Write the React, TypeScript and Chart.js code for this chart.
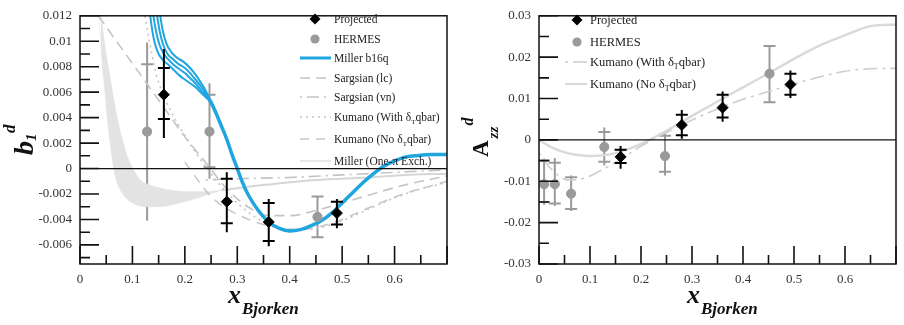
import React, { useEffect, useRef } from 'react';
import { Chart, registerables } from 'chart.js';
Chart.register(...registerables);

const SERIF = '"Liberation Serif", "Times New Roman", serif';

// ================= LEFT PANEL: b1^d =================
const L_X_TICKS = [0, 0.1, 0.2, 0.3, 0.4, 0.5, 0.6, 0.7];
const L_X_TICK_LABELS = ['0', '0.1', '0.2', '0.3', '0.4', '0.5', '0.6', ''];
const L_X_MINOR = [0.05, 0.15, 0.25, 0.35, 0.45, 0.55, 0.65];
const L_Y_TICKS = [-0.006, -0.004, -0.002, 0, 0.002, 0.004, 0.006, 0.008, 0.01, 0.012];
const L_Y_TICK_LABELS = ['-0.006', '-0.004', '-0.002', '0', '0.002', '0.004', '0.006', '0.008', '0.01', '0.012'];
const L_Y_MINOR = [-0.007, -0.005, -0.003, -0.001, 0.001, 0.003, 0.005, 0.007, 0.009, 0.011];

const L_PROJ_X = [0.16, 0.28, 0.36, 0.49];
const L_PROJ_Y = [0.0058, -0.0026, -0.0042, -0.0035];
const L_PROJ_CAP_LO = [0.0039, -0.0043, -0.0057, -0.0044];
const L_PROJ_CAP_HI = [0.0079, -0.0008, -0.0027, -0.0026];
const L_PROJ_LO = [0.0024, -0.005, -0.0061, -0.0047];
const L_PROJ_HI = [0.0094, -0.0003, -0.0024, -0.0024];

const L_HERMES_X = [0.128, 0.247, 0.453];
const L_HERMES_Y = [0.0029, 0.0029, -0.0038];
const L_HERMES_CAP_LO = [-0.0023, 0.0001, -0.0054];
const L_HERMES_CAP_HI = [0.0082, 0.0058, -0.0022];
const L_HERMES_LO = [-0.0041, -0.0008, -0.0054];
const L_HERMES_HI = [0.0099, 0.0067, -0.0022];

// Miller b16q: four strands at small x, one thick curve afterwards
const MILLER_S1_X = [0.134, 0.138, 0.143, 0.15, 0.159, 0.17, 0.18, 0.19, 0.2, 0.21, 0.22, 0.23, 0.24, 0.25];
const MILLER_S1_Y = [0.012, 0.0108, 0.0098, 0.009, 0.0085, 0.0081, 0.0077, 0.0073, 0.007, 0.0067, 0.0064, 0.006, 0.0056, 0.0052];
const MILLER_S2_X = [0.14, 0.145, 0.151, 0.16, 0.17, 0.18, 0.19, 0.2, 0.21, 0.22, 0.23, 0.24, 0.25];
const MILLER_S2_Y = [0.012, 0.0108, 0.0098, 0.009, 0.0085, 0.0081, 0.0078, 0.0075, 0.0071, 0.0067, 0.0062, 0.0057, 0.0052];
const MILLER_S3_X = [0.147, 0.152, 0.158, 0.167, 0.177, 0.188, 0.2, 0.21, 0.22, 0.23, 0.24, 0.25];
const MILLER_S3_Y = [0.012, 0.0108, 0.0098, 0.009, 0.0086, 0.0082, 0.0079, 0.0075, 0.007, 0.0065, 0.0059, 0.0052];
const MILLER_S4_X = [0.153, 0.158, 0.165, 0.175, 0.185, 0.197, 0.21, 0.22, 0.23, 0.24, 0.25];
const MILLER_S4_Y = [0.012, 0.0108, 0.0098, 0.0091, 0.0087, 0.0084, 0.0079, 0.0074, 0.0068, 0.0061, 0.0052];
const MILLER_X = [0.24, 0.25, 0.26, 0.27, 0.28, 0.29, 0.3, 0.31, 0.32, 0.34, 0.36, 0.38, 0.4, 0.42, 0.44, 0.46, 0.48, 0.5, 0.52, 0.54, 0.56, 0.58, 0.6, 0.62, 0.64, 0.67, 0.7];
const MILLER_Y = [0.0059, 0.0052, 0.0043, 0.0033, 0.0023, 0.0011, 0.0, -0.0011, -0.002, -0.0033, -0.0042, -0.0047, -0.0049, -0.0048, -0.0045, -0.0041, -0.0035, -0.0027, -0.0019, -0.0011, -0.0004, 0.0002, 0.0006, 0.0009, 0.001, 0.0011, 0.0011];

const SARG_LC_X = [0.035, 0.08, 0.12, 0.16, 0.2, 0.245, 0.28, 0.32, 0.36, 0.4, 0.45, 0.5, 0.55, 0.6, 0.65, 0.7];
const SARG_LC_Y = [0.012, 0.0094, 0.0071, 0.0048, 0.0025, 0.0002, -0.0016, -0.003, -0.0037, -0.0037, -0.0033, -0.0027, -0.0021, -0.0015, -0.001, -0.0006];
const SARG_VN_X = [0.24, 0.3, 0.4, 0.5, 0.6, 0.7];
const SARG_VN_Y = [-0.0009, -0.0008, -0.0007, -0.0005, -0.0003, -0.0001];
const KUM_WITH_X = [0.124, 0.13, 0.138, 0.146, 0.155, 0.165, 0.18, 0.2, 0.22, 0.25, 0.28, 0.32, 0.36, 0.4, 0.45, 0.5, 0.55, 0.6, 0.65, 0.7];
const KUM_WITH_Y = [0.012, 0.0105, 0.0088, 0.0073, 0.0062, 0.0052, 0.004, 0.0026, 0.0013, -0.0004, -0.0019, -0.0034, -0.0044, -0.0048, -0.0047, -0.0041, -0.0032, -0.0023, -0.0016, -0.0011];
const KUM_NO_X = [0.2, 0.25, 0.3, 0.36, 0.42, 0.48, 0.55, 0.61, 0.7];
const KUM_NO_Y = [0.0005, -0.0022, -0.0036, -0.0045, -0.0048, -0.0043, -0.0031, -0.0021, -0.001];
const OPE_X = [0.27, 0.35, 0.45, 0.55, 0.62, 0.7];
const OPE_Y = [-0.0017, -0.0013, -0.0009, -0.0007, -0.0005, -0.0004];
const BAND_OUT_X = [0.036, 0.042, 0.047, 0.052, 0.057, 0.063, 0.07, 0.08, 0.09, 0.1, 0.11, 0.127, 0.15, 0.18, 0.21, 0.24, 0.27];
const BAND_OUT_Y = [0.012, 0.0085, 0.0062, 0.004, 0.0021, 0.0003, -0.001, -0.0019, -0.0024, -0.0027, -0.0029, -0.003, -0.003, -0.0028, -0.0025, -0.0021, -0.0017];
const BAND_IN_X = [0.04, 0.048, 0.057, 0.065, 0.073, 0.082, 0.09, 0.101, 0.115, 0.134, 0.16, 0.2, 0.24, 0.27];
const BAND_IN_Y = [0.012, 0.0095, 0.0073, 0.0053, 0.0036, 0.0021, 0.001, 0.0, -0.0009, -0.0013, -0.0016, -0.0018, -0.0018, -0.0017];

const L_LEGEND = ['Projected', 'HERMES', 'Miller b16q', 'Sargsian (lc)', 'Sargsian (vn)', 'Kumano (With δ_Tqbar)', 'Kumano (No δ_Tqbar)', 'Miller (One-π Exch.)'];

// ================= RIGHT PANEL: Azz^d =================
const R_X_TICKS = [0, 0.1, 0.2, 0.3, 0.4, 0.5, 0.6, 0.7];
const R_X_TICK_LABELS = ['0', '0.1', '0.2', '0.3', '0.4', '0.5', '0.6', ''];
const R_X_MINOR = [0.05, 0.15, 0.25, 0.35, 0.45, 0.55, 0.65];
const R_Y_TICKS = [-0.03, -0.02, -0.01, 0, 0.01, 0.02, 0.03];
const R_Y_TICK_LABELS = ['-0.03', '-0.02', '-0.01', '0', '0.01', '0.02', '0.03'];
const R_Y_MINOR = [-0.025, -0.015, -0.005, 0.005, 0.015, 0.025];

const R_PROJ_X = [0.16, 0.28, 0.36, 0.493];
const R_PROJ_Y = [-0.0041, 0.0036, 0.0078, 0.0134];
const R_PROJ_CAP_LO = [-0.0056, 0.0011, 0.0054, 0.0109];
const R_PROJ_CAP_HI = [-0.0024, 0.0061, 0.0109, 0.016];
const R_PROJ_LO = [-0.007, 0.0003, 0.0044, 0.0101];
const R_PROJ_HI = [-0.0015, 0.0072, 0.0117, 0.0168];

const R_HERMES_X = [0.01, 0.031, 0.063, 0.128, 0.247, 0.452];
const R_HERMES_Y = [-0.0107, -0.0107, -0.013, -0.0017, -0.0039, 0.016];
const R_HERMES_CAP_LO = [-0.015, -0.0154, -0.0167, -0.0053, -0.0077, 0.0091];
const R_HERMES_CAP_HI = [-0.005, -0.0055, -0.009, 0.0019, 0.001, 0.0227];
const R_HERMES_LO = [-0.0157, -0.016, -0.0172, -0.0062, -0.0086, 0.0091];
const R_HERMES_HI = [-0.0045, -0.0044, -0.0086, 0.003, 0.0015, 0.0227];

const RK_WITH_X = [0, 0.02, 0.04, 0.06, 0.08, 0.1, 0.13, 0.16, 0.2, 0.25, 0.3, 0.35, 0.4, 0.45, 0.5, 0.55, 0.6, 0.65, 0.7];
const RK_WITH_Y = [-0.0031, -0.0065, -0.0088, -0.0097, -0.0095, -0.0087, -0.0068, -0.0047, -0.0015, 0.0018, 0.0048, 0.0075, 0.0098, 0.0117, 0.0135, 0.0152, 0.0166, 0.0172, 0.0173];
const RK_NO_X = [0, 0.02, 0.04, 0.06, 0.08, 0.1, 0.12, 0.15, 0.18, 0.21, 0.25, 0.3, 0.35, 0.4, 0.45, 0.5, 0.55, 0.6, 0.65, 0.7];
const RK_NO_Y = [0, -0.0015, -0.0026, -0.0033, -0.0037, -0.0039, -0.0038, -0.0032, -0.002, -0.0004, 0.0022, 0.0058, 0.0093, 0.0127, 0.0161, 0.0196, 0.0228, 0.0253, 0.0275, 0.0279];

const R_LEGEND = ['Projected', 'HERMES', 'Kumano (With δ_Tqbar)', 'Kumano (No δ_Tqbar)'];

// ================= helpers =================
const pts = (xs: number[], ys: number[]) => xs.map((x, i) => ({ x, y: ys[i] }));

const BLUE = '#1fa6e1';
const GRAY_PT = '#9a9a9a';

type Curve = { xs: number[]; ys: number[]; color: string; width: number; dash?: number[]; fill?: string; bg?: string };
type ErrGroup = { xs: number[]; capLo: number[]; capHi: number[]; lo: number[]; hi: number[]; color: string; layer: 'before' | 'after' };
type LegendItem = { kind: 'diamond' | 'circle' | 'line'; color: string; width?: number; dash?: number[] };

function curveDataset(c: Curve) {
  return {
    data: pts(c.xs, c.ys),
    showLine: true,
    pointRadius: 0,
    borderColor: c.color,
    borderWidth: c.width,
    borderDash: c.dash || [],
    cubicInterpolationMode: 'monotone',
    fill: c.fill ? c.fill : false,
    backgroundColor: c.bg || 'transparent',
  };
}

function drawRich(ctx: CanvasRenderingContext2D, text: string, x: number, y: number, size: number) {
  // "_X" renders X as subscript
  let cx = x;
  let i = 0;
  while (i < text.length) {
    if (text[i] === '_' && i + 1 < text.length) {
      ctx.font = `${Math.round(size * 0.62)}px ${SERIF}`;
      ctx.fillText(text[i + 1], cx, y + size * 0.25);
      cx += ctx.measureText(text[i + 1]).width;
      i += 2;
      continue;
    }
    let j = i;
    while (j < text.length && text[j] !== '_') j++;
    const s = text.slice(i, j);
    ctx.font = `${size}px ${SERIF}`;
    ctx.fillText(s, cx, y);
    cx += ctx.measureText(s).width;
    i = j;
  }
}

type Panel = {
  width: number;
  yAxisWidth: number;
  padRight: number;
  yMin: number;
  yMax: number;
  xTicks: number[]; xTickLabels: string[]; xMinor: number[];
  yTicks: number[]; yTickLabels: string[]; yMinor: number[];
  proj: { xs: number[]; ys: number[] };
  hermes: { xs: number[]; ys: number[] };
  curves: Curve[];
  errs: ErrGroup[];
  legend: { cx: number; lx0: number; lx1: number; tx: number; rows: number[]; size: number; labels: string[]; items: LegendItem[] };
  yTitle: (ctx: CanvasRenderingContext2D) => void;
  xTitleX: number;
};

function buildConfig(p: Panel) {
  const datasets: any[] = [
    {
      data: pts(p.proj.xs, p.proj.ys),
      pointStyle: 'rectRot', pointRadius: 5.5, backgroundColor: '#000', borderColor: '#000', borderWidth: 1, showLine: false,
    },
    {
      data: pts(p.hermes.xs, p.hermes.ys),
      pointStyle: 'circle', pointRadius: 4.6, backgroundColor: GRAY_PT, borderColor: GRAY_PT, borderWidth: 1, showLine: false,
    },
    ...p.curves.map(curveDataset),
  ];

  const errPlugin = {
    id: 'errbars',
    _draw(chart: any, layer: string) {
      const { ctx, chartArea: a, scales } = chart;
      const x = scales.x, y = scales.y;
      ctx.save();
      ctx.beginPath();
      ctx.rect(a.left, a.top, a.right - a.left, a.bottom - a.top);
      ctx.clip();
      for (const g of p.errs) {
        if (g.layer !== layer) continue;
        ctx.strokeStyle = g.color;
        ctx.lineWidth = 2;
        g.xs.forEach((xv, i) => {
          const px = x.getPixelForValue(xv);
          ctx.beginPath();
          ctx.moveTo(px, y.getPixelForValue(g.lo[i]));
          ctx.lineTo(px, y.getPixelForValue(g.hi[i]));
          for (const cv of [g.capLo[i], g.capHi[i]]) {
            const py = y.getPixelForValue(cv);
            ctx.moveTo(px - 6, py);
            ctx.lineTo(px + 6, py);
          }
          ctx.stroke();
        });
      }
      ctx.restore();
    },
    beforeDatasetsDraw(chart: any) { (this as any)._draw(chart, 'before'); },
    afterDatasetsDraw(chart: any) { (this as any)._draw(chart, 'after'); },
  };

  const framePlugin = {
    id: 'frame',
    afterDatasetsDraw(chart: any) {
      const { ctx, chartArea: a, scales } = chart;
      const x = scales.x, y = scales.y;
      ctx.save();
      ctx.strokeStyle = '#111';
      ctx.lineWidth = 1.2;
      const y0 = y.getPixelForValue(0);
      ctx.beginPath();
      ctx.moveTo(a.left, y0);
      ctx.lineTo(a.right, y0);
      ctx.stroke();
      ctx.lineWidth = 1.5;
      ctx.strokeRect(a.left, a.top, a.right - a.left, a.bottom - a.top);
      ctx.lineWidth = 1.6;
      ctx.beginPath();
      const xt = (vals: number[], len: number) => vals.forEach((v) => {
        const px = x.getPixelForValue(v);
        ctx.moveTo(px, a.bottom);
        ctx.lineTo(px, a.bottom - len);
      });
      const yt = (vals: number[], len: number) => vals.forEach((v) => {
        const py = y.getPixelForValue(v);
        ctx.moveTo(a.left, py);
        ctx.lineTo(a.left + len, py);
      });
      xt(p.xTicks, 18); xt(p.xMinor, 9);
      yt(p.yTicks, 19); yt(p.yMinor, 10);
      ctx.stroke();
      ctx.restore();
    },
  };

  const textPlugin = {
    id: 'texts',
    afterDraw(chart: any) {
      const { ctx } = chart;
      const lg = p.legend;
      ctx.save();
      lg.items.forEach((it, i) => {
        const cy = lg.rows[i];
        ctx.save();
        if (it.kind === 'diamond') {
          ctx.fillStyle = it.color;
          ctx.beginPath();
          ctx.moveTo(lg.cx, cy - 5.5); ctx.lineTo(lg.cx + 5.5, cy); ctx.lineTo(lg.cx, cy + 5.5); ctx.lineTo(lg.cx - 5.5, cy);
          ctx.closePath(); ctx.fill();
        } else if (it.kind === 'circle') {
          ctx.fillStyle = it.color;
          ctx.beginPath(); ctx.arc(lg.cx, cy, 4.6, 0, Math.PI * 2); ctx.fill();
        } else {
          ctx.strokeStyle = it.color;
          ctx.lineWidth = it.width || 1.5;
          ctx.setLineDash(it.dash || []);
          ctx.beginPath(); ctx.moveTo(lg.lx0, cy); ctx.lineTo(lg.lx1, cy); ctx.stroke();
        }
        ctx.restore();
        ctx.fillStyle = '#222';
        ctx.textBaseline = 'alphabetic';
        drawRich(ctx, lg.labels[i], lg.tx, cy + lg.size * 0.33, lg.size);
      });
      ctx.fillStyle = '#111';
      p.yTitle(ctx);
      ctx.font = `italic bold 26px ${SERIF}`;
      ctx.fillText('x', p.xTitleX, 303);
      const w = ctx.measureText('x').width;
      ctx.font = `italic bold 17px ${SERIF}`;
      ctx.fillText('Bjorken', p.xTitleX + w + 1, 314);
      ctx.restore();
    },
  };

  const tickFont = { family: SERIF, size: 13 };
  return {
    type: 'scatter' as const,
    data: { datasets },
    options: {
      responsive: false,
      animation: false as const,
      events: [],
      layout: { padding: { top: 10, right: p.padRight, bottom: 0, left: 0 } },
      plugins: { legend: { display: false }, tooltip: { enabled: false } },
      scales: {
        x: {
          type: 'linear' as const, min: 0, max: 0.7,
          afterBuildTicks: (s: any) => { s.ticks = p.xTicks.map((v) => ({ value: v })); },
          afterFit: (s: any) => { s.height = 61; },
          ticks: {
            callback: (_v: any, i: number) => p.xTickLabels[i],
            font: tickFont, color: '#333', padding: 8, maxRotation: 0, autoSkip: false,
          },
          grid: { display: false, drawTicks: false },
          border: { display: false },
        },
        y: {
          type: 'linear' as const, min: p.yMin, max: p.yMax,
          afterBuildTicks: (s: any) => { s.ticks = p.yTicks.map((v) => ({ value: v })); },
          afterFit: (s: any) => { s.width = p.yAxisWidth; },
          ticks: {
            callback: (_v: any, i: number) => p.yTickLabels[i],
            font: tickFont, color: '#333', padding: 8, autoSkip: false,
          },
          grid: { display: false, drawTicks: false },
          border: { display: false },
        },
      },
    },
    plugins: [errPlugin, framePlugin, textPlugin],
  };
}

const LEFT: Panel = {
  width: 460, yAxisWidth: 80, padRight: 13, yMin: -0.0075, yMax: 0.012,
  xTicks: L_X_TICKS, xTickLabels: L_X_TICK_LABELS, xMinor: L_X_MINOR,
  yTicks: L_Y_TICKS, yTickLabels: L_Y_TICK_LABELS, yMinor: L_Y_MINOR,
  proj: { xs: L_PROJ_X, ys: L_PROJ_Y },
  hermes: { xs: L_HERMES_X, ys: L_HERMES_Y },
  curves: [
    { xs: MILLER_X, ys: MILLER_Y, color: BLUE, width: 3.5 },
    { xs: MILLER_S1_X, ys: MILLER_S1_Y, color: BLUE, width: 2 },
    { xs: MILLER_S2_X, ys: MILLER_S2_Y, color: BLUE, width: 2 },
    { xs: MILLER_S3_X, ys: MILLER_S3_Y, color: BLUE, width: 2 },
    { xs: MILLER_S4_X, ys: MILLER_S4_Y, color: BLUE, width: 2 },
    { xs: SARG_LC_X, ys: SARG_LC_Y, color: '#c4c4c4', width: 1.6, dash: [10, 6] },
    { xs: SARG_VN_X, ys: SARG_VN_Y, color: '#c4c4c4', width: 1.6, dash: [2, 5, 12, 5] },
    { xs: KUM_WITH_X, ys: KUM_WITH_Y, color: '#c4c4c4', width: 1.6, dash: [2, 4] },
    { xs: KUM_NO_X, ys: KUM_NO_Y, color: '#c8c8c8', width: 1.6, dash: [9, 7] },
    { xs: OPE_X, ys: OPE_Y, color: '#d6d6d6', width: 2 },
    { xs: BAND_OUT_X, ys: BAND_OUT_Y, color: '#e3e3e3', width: 0.5 },
    { xs: BAND_IN_X, ys: BAND_IN_Y, color: '#e3e3e3', width: 0.5, fill: '-1', bg: '#e3e3e3' },
  ],
  errs: [
    { xs: L_HERMES_X, capLo: L_HERMES_CAP_LO, capHi: L_HERMES_CAP_HI, lo: L_HERMES_LO, hi: L_HERMES_HI, color: GRAY_PT, layer: 'before' },
    { xs: L_PROJ_X, capLo: L_PROJ_CAP_LO, capHi: L_PROJ_CAP_HI, lo: L_PROJ_LO, hi: L_PROJ_HI, color: '#000', layer: 'after' },
  ],
  legend: {
    cx: 315, lx0: 300, lx1: 331, tx: 334, rows: [19, 39, 58, 78, 97, 117, 139, 161], size: 11.5, labels: L_LEGEND,
    items: [
      { kind: 'diamond', color: '#000' },
      { kind: 'circle', color: GRAY_PT },
      { kind: 'line', color: BLUE, width: 3 },
      { kind: 'line', color: '#c4c4c4', width: 1.5, dash: [10, 6] },
      { kind: 'line', color: '#c4c4c4', width: 1.5, dash: [2, 5, 12, 5] },
      { kind: 'line', color: '#c4c4c4', width: 1.5, dash: [2, 4] },
      { kind: 'line', color: '#c8c8c8', width: 1.5, dash: [9, 7] },
      { kind: 'line', color: '#d0d0d0', width: 1 },
    ],
  },
  yTitle: (ctx) => {
    ctx.save();
    ctx.translate(33, 155);
    ctx.rotate(-Math.PI / 2);
    ctx.font = `italic bold 28px ${SERIF}`;
    ctx.fillText('b', 0, 0);
    const w = ctx.measureText('b').width;
    ctx.font = `italic bold 15px ${SERIF}`;
    ctx.fillText('1', w, 3);
    ctx.font = `italic bold 17px ${SERIF}`;
    ctx.fillText('d', w + 8, -18);
    ctx.restore();
  },
  xTitleX: 228,
};

const RIGHT: Panel = {
  width: 444, yAxisWidth: 79, padRight: 1, yMin: -0.03, yMax: 0.03,
  xTicks: R_X_TICKS, xTickLabels: R_X_TICK_LABELS, xMinor: R_X_MINOR,
  yTicks: R_Y_TICKS, yTickLabels: R_Y_TICK_LABELS, yMinor: R_Y_MINOR,
  proj: { xs: R_PROJ_X, ys: R_PROJ_Y },
  hermes: { xs: R_HERMES_X, ys: R_HERMES_Y },
  curves: [
    { xs: RK_WITH_X, ys: RK_WITH_Y, color: '#cdcdcd', width: 1.6, dash: [3, 5, 14, 5] },
    { xs: RK_NO_X, ys: RK_NO_Y, color: '#d9d9d9', width: 2.4 },
  ],
  errs: [
    { xs: R_HERMES_X, capLo: R_HERMES_CAP_LO, capHi: R_HERMES_CAP_HI, lo: R_HERMES_LO, hi: R_HERMES_HI, color: GRAY_PT, layer: 'before' },
    { xs: R_PROJ_X, capLo: R_PROJ_CAP_LO, capHi: R_PROJ_CAP_HI, lo: R_PROJ_LO, hi: R_PROJ_HI, color: '#000', layer: 'after' },
  ],
  legend: {
    cx: 117, lx0: 105, lx1: 127, tx: 130, rows: [20, 42, 62, 84], size: 12.5, labels: R_LEGEND,
    items: [
      { kind: 'diamond', color: '#000' },
      { kind: 'circle', color: GRAY_PT },
      { kind: 'line', color: '#cdcdcd', width: 1.5, dash: [3, 5, 14, 5] },
      { kind: 'line', color: '#d9d9d9', width: 2 },
    ],
  },
  yTitle: (ctx) => {
    ctx.save();
    ctx.translate(28, 157);
    ctx.rotate(-Math.PI / 2);
    ctx.font = `bold 23px ${SERIF}`;
    ctx.fillText('A', 0, 0);
    const w = ctx.measureText('A').width;
    ctx.font = `italic bold 15px ${SERIF}`;
    ctx.fillText('zz', w + 2, 10);
    ctx.font = `italic bold 16px ${SERIF}`;
    ctx.fillText('d', w + 15, -15);
    ctx.restore();
  },
  xTitleX: 227,
};

function PanelChart({ panel, left }: { panel: Panel; left: number }) {
  const ref = useRef<HTMLCanvasElement | null>(null);
  useEffect(() => {
    if (!ref.current) return;
    const chart = new Chart(ref.current, buildConfig(panel) as any);
    return () => chart.destroy();
  }, [panel]);
  return (
    <div style={{ position: 'absolute', left, top: 0, width: panel.width, height: 325 }}>
      <canvas ref={ref} width={panel.width} height={325} style={{ display: 'block' }} />
    </div>
  );
}

export default function App() {
  return (
    <div style={{ position: 'absolute', left: 0, top: 0, width: 904, height: 325, background: '#fff', overflow: 'hidden' }}>
      <PanelChart panel={LEFT} left={0} />
      <PanelChart panel={RIGHT} left={460} />
    </div>
  );
}
